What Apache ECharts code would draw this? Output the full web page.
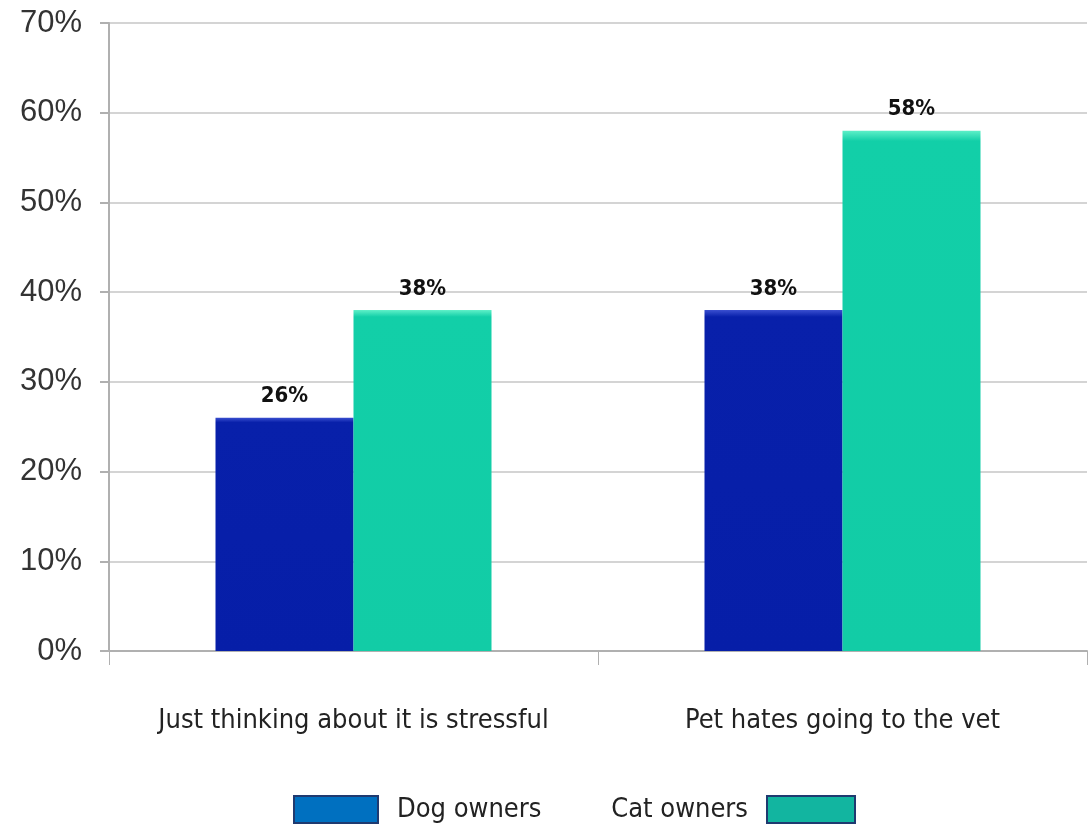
<!DOCTYPE html>
<html><head><meta charset="utf-8">
<script src="https://cdn.jsdelivr.net/npm/echarts@6/dist/echarts.min.js"></script>
<style>html,body{margin:0;padding:0;background:#fff}#c{width:1089px;height:828px}</style>
</head><body><div id="c"></div>
<script>
const categories = ['Just thinking about it is stressful', 'Pet hates going to the vet'];
const dogOwners = [26, 38];
const catOwners = [38, 58];
const seriesNames = ['Dog owners', 'Cat owners'];

const condensed = '"DejaVu Sans Condensed", "Liberation Sans Narrow", sans-serif';
const chart = echarts.init(document.getElementById('c'));
chart.setOption({
  animation: false,
  grid: { left: 109, right: 2, top: 23, bottom: 177 },
  legend: [
    { data: [{ name: seriesNames[0], icon: 'rect', itemStyle: { color: '#0070c0', borderColor: '#1f3a70', borderWidth: 2 } }],
      left: 293, top: 795, padding: 0, itemWidth: 84, itemHeight: 27, align: 'left',
      textStyle: { fontFamily: condensed, fontSize: 27, color: '#222', padding: [0,0,0,14] } },
    { data: [{ name: seriesNames[1], icon: 'rect', itemStyle: { color: '#12b5a0', borderColor: '#1f3a70', borderWidth: 2 } }],
      right: 233, top: 795, padding: 0, itemWidth: 88, itemHeight: 27, align: 'right',
      textStyle: { fontFamily: condensed, fontSize: 27, color: '#222', padding: [0,14,0,0] } }
  ],
  xAxis: {
    type: 'category', data: categories,
    axisLine: { lineStyle: { color: '#b0b0b0', width: 2 } },
    axisTick: { show: true, interval: 0, length: 14, lineStyle: { color: '#b0b0b0', width: 1 } },
    axisLabel: { interval: 0, margin: 56, fontFamily: condensed, fontSize: 27, color: '#222' }
  },
  yAxis: {
    type: 'value', min: 0, max: 70, interval: 10,
    axisLine: { show: true, lineStyle: { color: '#b0b0b0', width: 2 } },
    axisTick: { show: true, length: 9, lineStyle: { color: '#b0b0b0', width: 2 } },
    splitLine: { lineStyle: { color: '#d4d4d4', width: 2 } },
    axisLabel: { formatter: '{value}%', margin: 27, fontFamily: 'Liberation Sans', fontSize: 31, color: '#333' }
  },
  series: [
    { name: seriesNames[0], type: 'bar', data: dogOwners, barWidth: 138, barGap: '0%',
      itemStyle: { color: new echarts.graphic.LinearGradient(0,0,0,1,[{offset:0,color:'#3a4fd0'},{offset:0.02,color:'#0820aa'},{offset:1,color:'#061ea8'}]) },
      label: { show: true, position: 'top', distance: 10, formatter: '{c}%', fontFamily: condensed, fontWeight: 'bold', fontSize: 22, color: '#111' } },
    { name: seriesNames[1], type: 'bar', data: catOwners, barWidth: 138, barGap: '0%',
      itemStyle: { color: new echarts.graphic.LinearGradient(0,0,0,1,[{offset:0,color:'#5ef0c8'},{offset:0.02,color:'#12cfa8'},{offset:1,color:'#12cca6'}]) },
      label: { show: true, position: 'top', distance: 10, formatter: '{c}%', fontFamily: condensed, fontWeight: 'bold', fontSize: 22, color: '#111' } }
  ]
});
</script></body></html>
